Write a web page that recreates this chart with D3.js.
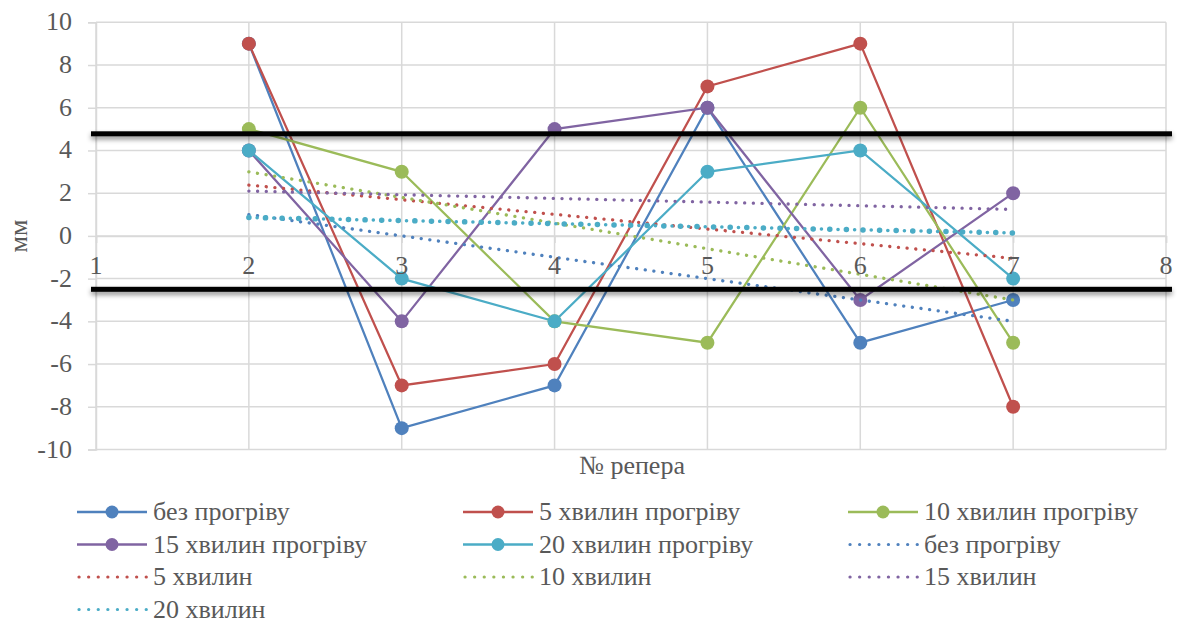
<!DOCTYPE html>
<html><head><meta charset="utf-8">
<script src="https://cdn.jsdelivr.net/npm/d3@7/dist/d3.min.js"></script>
<style>
body{margin:0;background:#fff}
#wrap{position:relative;width:1181px;height:622px;overflow:hidden}
svg{display:block;position:absolute;left:0;top:0}
.lbl{position:absolute;color:#595959;line-height:1;white-space:nowrap}
</style>
</head><body><div id="wrap"><svg id="c" width="1181" height="622"></svg></div>
<script>
// ---- data ----
const xPoints = [2, 3, 4, 5, 6, 7];
const seriesNames = ["без прогріву", "5 хвилин прогріву", "10 хвилин прогріву", "15 хвилин прогріву", "20 хвилин прогріву"];
const bezProgrivu = [9, -9, -7, 6, -5, -3];
const hv5 = [9, -7, -6, 7, 9, -8];
const hv10 = [5, 3, -4, -5, 6, -5];
const hv15 = [4, -4, 5, 6, -3, 2];
const hv20 = [4, -2, -4, 3, 4, -2];
const trendNames = ["без прогріву", "5 хвилин", "10 хвилин", "15 хвилин", "20 хвилин"];
const trendX = [2, 7];
const trendStart = [1, 2.38, 3, 2.1, 0.86];
const trendEnd = [-4, -1.05, -3, 1.24, 0.14];
const xTicks = [1, 2, 3, 4, 5, 6, 7, 8];
const yTicks = [-10, -8, -6, -4, -2, 0, 2, 4, 6, 8, 10];
const limitLines = [4.78, -2.5];
const xTitle = "№ репера";
const yTitle = "мм";
const colors = ["#4F81BD", "#C0504D", "#9BBB59", "#8064A2", "#4BACC6"];

const seriesValues = [bezProgrivu, hv5, hv10, hv15, hv20];

const wrap = d3.select("#wrap");
const svg = d3.select("#c");
const grid = "#d9d9d9";
const FS = 26;
const FONT = `"Liberation Serif", "Times New Roman", Times, serif`;

const x = d3.scaleLinear().domain([1, 8]).range([96, 1166]);
const y = d3.scaleLinear().domain([-10, 10]).range([449.5, 22.3]);

const defs = svg.append("defs");
const f = defs.append("filter").attr("id", "sh").attr("filterUnits", "userSpaceOnUse")
  .attr("x", 0).attr("y", 0).attr("width", 1181).attr("height", 622);
f.append("feDropShadow").attr("dx", 0).attr("dy", 3).attr("stdDeviation", 2.5).attr("flood-color", "#000").attr("flood-opacity", 0.45);

// gridlines
svg.append("g").selectAll("line").data(yTicks).join("line")
  .attr("x1", x(1)).attr("x2", x(8)).attr("y1", d => y(d)).attr("y2", d => y(d))
  .attr("stroke", grid).attr("stroke-width", 1.5);
svg.append("g").selectAll("line").data(xTicks).join("line")
  .attr("x1", d => x(d)).attr("x2", d => x(d)).attr("y1", y(10)).attr("y2", y(-10))
  .attr("stroke", grid).attr("stroke-width", 1.5);

// axes (lines and ticks via d3 axis; labels as HTML text below)
const yAxis = svg.append("g").attr("transform", `translate(${x(1)},0)`)
  .call(d3.axisLeft(y).tickValues(yTicks).tickSize(8).tickFormat(""));
yAxis.select(".domain").attr("stroke", grid).attr("stroke-width", 1.5);
yAxis.selectAll(".tick line").attr("stroke", grid).attr("stroke-width", 1.5);
yAxis.selectAll("text").remove();

const xAxis = svg.append("g").attr("transform", `translate(0,${y(0)})`)
  .call(d3.axisBottom(x).tickValues(xTicks).tickSize(7).tickFormat(""));
xAxis.select(".domain").attr("stroke", grid).attr("stroke-width", 1.5);
xAxis.selectAll(".tick line").attr("stroke", grid).attr("stroke-width", 1.5);
xAxis.selectAll("text").remove();

// data lines
const line = d3.line().x(d => x(d[0])).y(d => y(d[1]));
seriesValues.forEach((vals, i) => {
  const pts = xPoints.map((xv, j) => [xv, vals[j]]);
  svg.append("path").attr("d", line(pts)).attr("fill", "none").attr("stroke", colors[i]).attr("stroke-width", 2.25);
});
seriesValues.forEach((vals, i) => {
  svg.append("g").selectAll("circle").data(xPoints.map((xv, j) => [xv, vals[j]])).join("circle")
    .attr("cx", d => x(d[0])).attr("cy", d => y(d[1])).attr("r", 7).attr("fill", colors[i]);
});

// trend lines
trendStart.forEach((s, i) => {
  const pts = [[trendX[0], s], [trendX[1], trendEnd[i]]];
  if (i === 4) {
    svg.append("path").attr("d", line(pts)).attr("fill", "none").attr("stroke", colors[i])
      .attr("stroke-width", 5.5).attr("stroke-linecap", "round").attr("stroke-dasharray", "0.1 16.5");
    svg.append("path").attr("d", line(pts)).attr("fill", "none").attr("stroke", colors[i])
      .attr("stroke-width", 3.5).attr("stroke-linecap", "round").attr("stroke-dasharray", "0.1 16.5").attr("stroke-dashoffset", -8.25);
  } else {
    svg.append("path").attr("d", line(pts)).attr("fill", "none").attr("stroke", colors[i])
      .attr("stroke-width", 3.3).attr("stroke-linecap", "round").attr("stroke-dasharray", "0.1 8.6");
  }
});

// black limit lines
svg.append("g").attr("filter", "url(#sh)").selectAll("rect").data(limitLines).join("rect")
  .attr("x", 91).attr("width", 1172 - 91).attr("y", d => y(d) - 2.5).attr("height", 5)
  .attr("fill", "#000");

// ---- text (HTML) ----
const lbl = (t, left, top, size) => wrap.append("div").attr("class", "lbl")
  .style("font-family", FONT)
  .style("left", left + "px").style("top", top + "px").style("font-size", size + "px").text(t);

yTicks.forEach(d => {
  lbl(String(d), 0, y(d) - 0.5 * FS, FS).style("width", "72px").style("text-align", "right");
});
xTicks.forEach(d => {
  lbl(String(d), x(d) - 30, y(0) + 39 - 0.84 * FS, FS).style("width", "60px").style("text-align", "center");
});
lbl(xTitle, 632 - 100, 475 - 0.84 * FS, FS).style("width", "200px").style("text-align", "center");
lbl(yTitle, 19 - 50, y(0) - 0.5 * FS, FS).style("width", "100px").style("text-align", "center")
  .style("transform", "rotate(-90deg)");

// legend
const legendItems = [];
seriesNames.forEach((n, i) => legendItems.push({ name: n, color: colors[i], trend: false }));
trendNames.forEach((n, i) => legendItems.push({ name: n, color: colors[i], trend: true }));
const colX = [77, 463, 848];
const rowY = [512, 544.5, 577, 609.5];
const lg = svg.append("g");
legendItems.forEach((it, k) => {
  const cx = colX[k % 3], cy = rowY[Math.floor(k / 3)];
  const g = lg.append("g").attr("transform", `translate(${cx},${cy})`);
  if (!it.trend) {
    g.append("line").attr("x1", 0).attr("x2", 70).attr("stroke", it.color).attr("stroke-width", 2.5);
    g.append("circle").attr("cx", 35).attr("r", 6.5).attr("fill", it.color);
  } else {
    g.append("line").attr("x1", 2).attr("x2", 70).attr("stroke", it.color).attr("stroke-width", 3.2)
      .attr("stroke-linecap", "round").attr("stroke-dasharray", "0.1 9.5");
  }
  lbl(it.name, cx + 76, cy - 0.5 * FS, FS);
});
</script></body></html>
